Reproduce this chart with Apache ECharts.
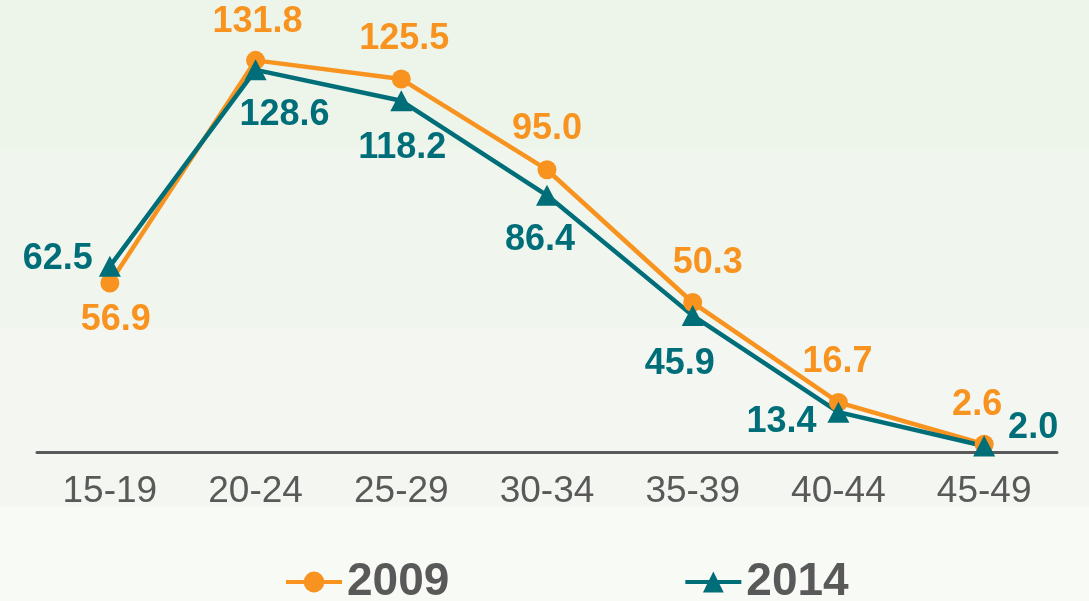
<!DOCTYPE html>
<html>
<head>
<meta charset="utf-8">
<script src="https://cdn.jsdelivr.net/npm/echarts@6/dist/echarts.min.js"></script>
<style>
  html, body { margin: 0; padding: 0; }
  body {
    width: 1089px; height: 601px; overflow: hidden;
    background: linear-gradient(to bottom,
      #edf5ea 0px, #edf5ea 148px,
      #f0f6ee 148px, #f0f6ee 327px,
      #f4f7f1 327px, #f4f7f1 507px,
      #f8faf6 507px, #f8faf6 601px);
  }
</style>
</head>
<body>
<div id="echarts" style="width: 1089px; height: 601px"></div>
<script>
  // age groups and rates
  const ageGroups = ['15-19', '20-24', '25-29', '30-34', '35-39', '40-44', '45-49']
  const rates2009 = [56.9, 131.8, 125.5, 95.0, 50.3, 16.7, 2.6]
  const rates2014 = [62.5, 128.6, 118.2, 86.4, 45.9, 13.4, 2.0]

  // where each value label sits, relative to its point
  const offsets2009 = [[6, 37], [2, -38], [3, -40], [0, -41], [15, -39], [-1, -40], [-7, -39]]
  const offsets2014 = [[-52, -7], [29, 45], [1, 47], [-7, 45], [-13, 48], [-57, 10], [49, -18]]

  const orange = '#f7931e'
  const teal = '#006e79'
  const grey = '#595959'
  const font = 'Arial, "Liberation Sans", sans-serif'

  function withLabels(values, offsets) {
    return values.map((v, i) => ({
      value: v,
      label: { offset: offsets[i] }
    }))
  }

  let myChart = echarts.init(document.getElementById('echarts'))

  let option = {
    animation: false,
    textStyle: { fontFamily: font },
    grid: { left: 37, right: 32, top: 36, bottom: 149 },
    legend: {
      data: ['2009', '2014'],
      left: 284,
      top: 557,
      padding: 0,
      itemWidth: 56,
      itemHeight: 26,
      itemGap: 234,
      lineStyle: { width: 4 },
      textStyle: { fontSize: 46, fontWeight: 'bold', color: grey, lineHeight: 50, fontFamily: font }
    },
    xAxis: {
      type: 'category',
      data: ageGroups,
      axisLine: { lineStyle: { color: grey, width: 3 } },
      axisTick: { show: false },
      axisLabel: { fontSize: 37, color: grey, margin: 21, fontFamily: font }
    },
    yAxis: {
      type: 'value',
      min: 0,
      max: 140,
      show: false,
      splitLine: { show: false }
    },
    series: [
      {
        name: '2009',
        type: 'line',
        data: withLabels(rates2009, offsets2009),
        symbol: 'circle',
        symbolSize: 19,
        lineStyle: { color: orange, width: 4.5 },
        itemStyle: { color: orange },
        label: {
          show: true,
          position: 'inside',
          formatter: (p) => p.value.toFixed(1),
          color: orange,
          fontSize: 36,
          fontWeight: 'bold',
          fontFamily: font
        }
      },
      {
        name: '2014',
        type: 'line',
        data: withLabels(rates2014, offsets2014),
        symbol: 'triangle',
        symbolSize: [22, 21],
        lineStyle: { color: teal, width: 4.5 },
        itemStyle: { color: teal },
        label: {
          show: true,
          position: 'inside',
          formatter: (p) => p.value.toFixed(1),
          color: teal,
          fontSize: 36,
          fontWeight: 'bold',
          fontFamily: font
        }
      }
    ]
  }

  myChart.setOption(option)
</script>
</body>
</html>
